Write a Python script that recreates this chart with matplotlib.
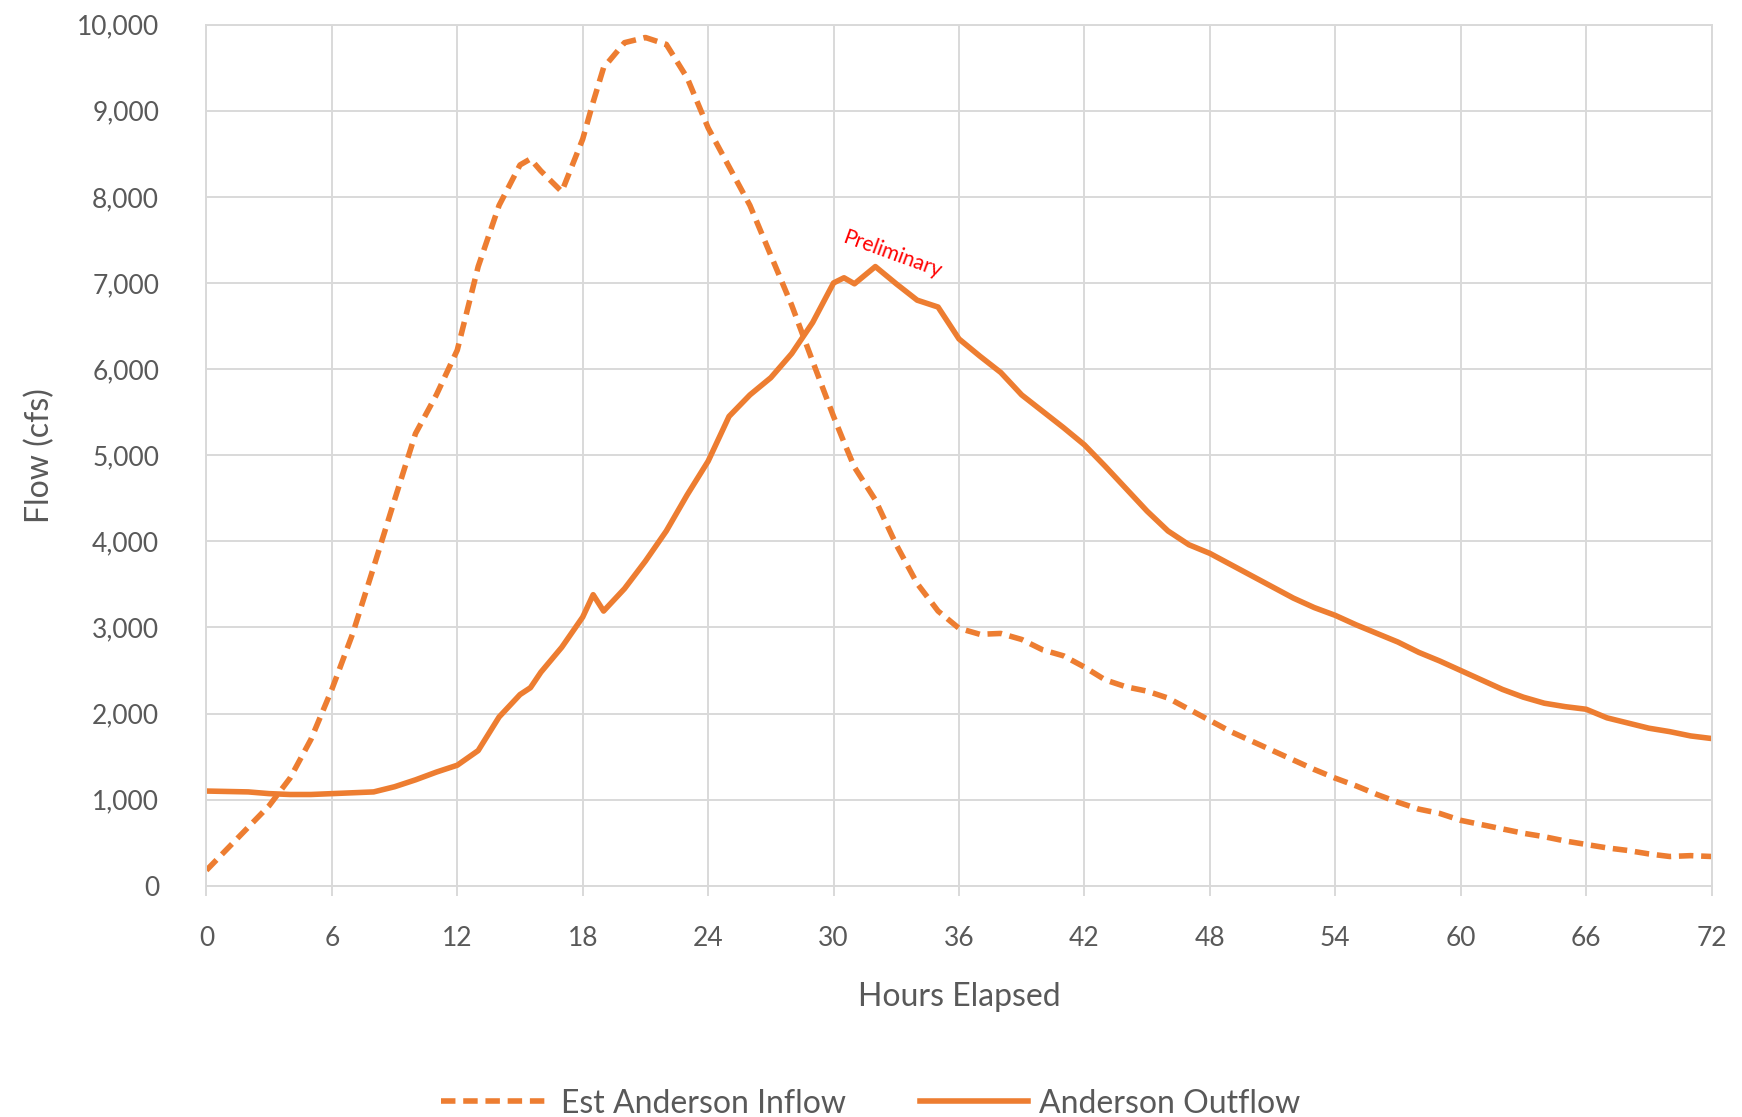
import matplotlib.pyplot as plt
from matplotlib.ticker import FuncFormatter, MultipleLocator

# hours since start (hourly, plus a few half-hour points where the curves turn)
hours = [0, 1, 2, 3, 4, 5, 6, 7, 8, 9, 10, 11, 12, 13, 14, 15, 15.5, 16, 17, 18, 18.5,
         19, 20, 21, 22, 23, 24, 25, 26, 27, 28, 29, 30, 30.5, 31, 32, 33, 34, 35, 36,
         37, 38, 39, 40, 41, 42, 43, 44, 45, 46, 47, 48, 49, 50, 51, 52, 53, 54, 55,
         56, 57, 58, 59, 60, 61, 62, 63, 64, 65, 66, 67, 68, 69, 70, 71, 72]

inflow = [180, 430, 680, 930, 1250, 1700, 2280, 2930, 3700, 4480, 5250, 5700, 6220,
          7190, 7900, 8370, 8440, 8300, 8060, 8670, 9100,
          9500, 9790, 9850, 9770, 9380, 8800, 8350, 7900, 7320, 6740, 6090, 5450, 5150,
          4860, 4480, 3960, 3510, 3190, 2990,
          2920, 2930, 2860, 2740, 2670, 2540, 2390, 2310, 2260, 2180, 2050, 1920, 1790,
          1680, 1570, 1460, 1350, 1250, 1160,
          1060, 970, 890, 840, 760, 710, 660, 610, 570, 520, 480, 440, 410, 370, 340,
          350, 340]

outflow = [1100, 1095, 1090, 1070, 1060, 1060, 1070, 1080, 1090, 1150, 1230, 1320, 1400,
           1570, 1960, 2220, 2300, 2480, 2770, 3120, 3380,
           3190, 3450, 3770, 4120, 4540, 4930, 5450, 5700, 5900, 6180, 6540, 7000, 7060,
           6990, 7190, 6990, 6800, 6720, 6350,
           6150, 5960, 5700, 5510, 5320, 5120, 4870, 4610, 4350, 4120, 3960, 3860, 3730,
           3600, 3470, 3340, 3230, 3140, 3030,
           2930, 2830, 2710, 2610, 2500, 2390, 2280, 2190, 2120, 2080, 2050, 1950, 1890,
           1830, 1790, 1740, 1710]

orange = '#ED7D31'
grey_text = '#595959'
grid_col = '#d9d9d9'

plt.rcParams['font.family'] = ['Lato', 'DejaVu Sans']

fig = plt.figure(figsize=(17.42, 11.17), dpi=100)
ax = fig.add_axes([0.1185, 0.207, 0.864, 0.771])

ax.plot(hours, inflow, color=orange, lw=4, ls=(0, (2.6, 1.4)),
        label='Est Anderson Inflow')
ax.plot(hours, outflow, color=orange, lw=4, label='Anderson Outflow')

ax.set_xlim(0, 72)
ax.set_ylim(0, 10000)
ax.xaxis.set_major_locator(MultipleLocator(6))
ax.yaxis.set_major_locator(MultipleLocator(1000))
ax.yaxis.set_major_formatter(FuncFormatter(lambda v, p: f'{int(v):,}'))
ax.grid(True, color=grid_col, lw=1.4)
ax.set_axisbelow(True)

for s in ax.spines.values():
    s.set_color(grid_col)
    s.set_linewidth(1.4)

ax.tick_params(axis='x', length=7, color=grid_col, width=1.4, pad=22,
               labelsize=19, labelcolor=grey_text)
ax.tick_params(axis='y', length=0, pad=34, labelsize=19, labelcolor=grey_text)

ax.set_xlabel('Hours Elapsed', fontsize=23, color=grey_text, labelpad=22)
ax.set_ylabel('Flow (cfs)', fontsize=23, color=grey_text, labelpad=16)

ax.text(32.8, 7330, 'Preliminary', color='red', fontsize=15, rotation=-20,
        ha='center', va='center')

leg = fig.legend(loc='center', bbox_to_anchor=(0.5, 0.012), ncol=2, frameon=False,
                 fontsize=23, handlelength=3.4, columnspacing=2.3, handletextpad=0.35)
for t in leg.get_texts():
    t.set_color(grey_text)

fig.savefig('out.png', dpi=100, facecolor='white')
